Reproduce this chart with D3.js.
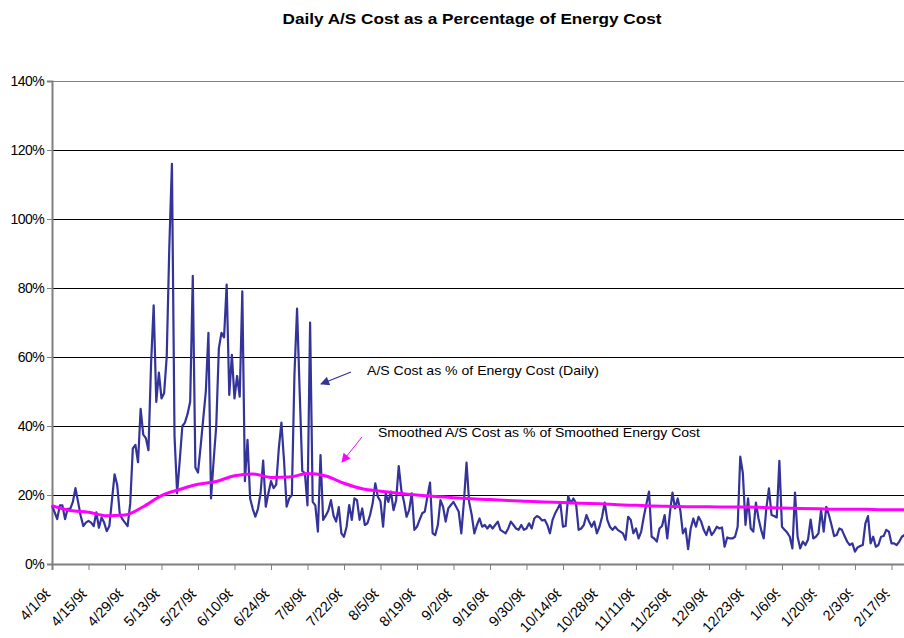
<!DOCTYPE html>
<html>
<head>
<meta charset="utf-8">
<script src="https://cdn.jsdelivr.net/npm/d3@7"></script>
<style>
  body { margin: 0; background: #fff; }
  text { font-family: Arial, 'Liberation Sans', sans-serif; }
</style>
</head>
<body>
<div id="chart"></div>
<script>
// daily A/S cost as % of energy cost, one array per month (4/1/98 .. 2/22/99)
const apr98 = [17, 15, 13, 17, 17, 13, 16, 16, 18, 22, 18, 14, 11, 12, 12.5, 12, 11, 15, 10.5, 13.5, 12, 9.5, 11, 18.5, 26, 23, 14.5, 13, 12, 11];
const may98 = [17.5, 33.5, 34.5, 29.5, 45, 37.5, 36.5, 33, 58, 75, 47, 55.5, 48, 49.5, 60, 92, 116, 37, 20.5, 30, 40, 41, 43.5, 47, 83.5, 28, 26.5, 34, 42, 50, 67];
const jun98 = [19, 30, 40, 62.5, 67, 65.7, 81, 49, 60.6, 48, 54.5, 48.5, 79, 24, 36, 19, 16, 13.7, 16, 20.5, 30, 16.6, 20.5, 24, 22, 23, 33.5, 41, 30, 16.6];
const jul98 = [19, 20, 55, 74, 50, 27, 26.3, 17, 70, 18, 17, 9.4, 31.6, 12.8, 14, 15.5, 18.5, 14, 12.3, 16.5, 8.9, 7.9, 10.8, 17.1, 12.8, 19, 18.5, 12.8, 16.1, 11.3, 11.8];
const aug98 = [14.2, 17.6, 23.4, 19.5, 18.1, 10.8, 20.5, 18, 21, 15.6, 18.5, 28.4, 21.4, 18.1, 13.7, 15.6, 20.5, 9.9, 10.8, 12.8, 14.7, 15.2, 19.5, 23.6, 8.9, 8.4, 11.3, 18.5, 16.6, 12.3, 16.1];
const sep98 = [17.1, 18, 16.6, 15.2, 8.9, 18, 29.4, 18, 14.2, 8.9, 11.3, 13.2, 10.8, 11.3, 10.3, 11.3, 10.3, 11.3, 12.3, 9.9, 9.4, 8.9, 10.3, 12.3, 11.3, 10.3, 9.9, 11.3, 9.9, 10.3];
const oct98 = [11.8, 10.3, 13.2, 13.9, 13.5, 12.6, 12.8, 11.3, 8.9, 12.8, 14.7, 16.1, 17.6, 10.8, 11, 19.7, 17.6, 19, 17.6, 9.9, 10.3, 11.3, 14.2, 12.3, 10.8, 12.3, 8.9, 10.8, 13.7, 17.8, 12.8];
const nov98 = [10.8, 9.9, 10.8, 9.9, 9.4, 8.9, 7, 13.7, 12.8, 8.9, 10.3, 7.4, 9.4, 13.7, 17.4, 21, 7.9, 7.4, 6.5, 10.3, 11, 14.2, 7.4, 14.7, 20.7, 16.1, 19, 15.6, 8.9, 10.3];
const dec98 = [4.3, 10.3, 13.2, 10.8, 13.7, 12.3, 9.9, 8.4, 10.8, 8.4, 9.4, 10.8, 10.3, 10.6, 5, 7.7, 7.4, 7.4, 7.9, 10.8, 31.1, 26.3, 11.3, 19, 10.3, 9.4, 17.8, 13.2, 9.9, 7.4, 16.1];
const jan99 = [21.9, 14.2, 13.9, 13.5, 29.9, 10.8, 9.9, 9.1, 7.9, 4.5, 20.7, 7.9, 4.5, 6.5, 5.5, 7.1, 12.9, 7.4, 7.9, 8.9, 15.6, 9.4, 16.6, 14.2, 11.3, 8.1, 8.4, 10.3, 9.9, 8.1, 6.5];
const feb99 = [5.5, 6, 3.6, 4.8, 5.2, 5.5, 11.8, 13.9, 6, 7.9, 5, 5.5, 7.9, 8.1, 9.9, 9.4, 6, 6, 5.5, 6.5, 7.9, 8.4];

// smoothed series, read weekly (days after 4/1/98)
const smoothedDay = [0, 7, 14, 21, 28, 35, 42, 49, 56, 63, 70, 77, 84, 91, 98, 105, 112, 119, 126, 133, 140, 147, 154, 161, 168, 175, 182, 189, 196, 203, 210, 217, 224, 231, 238, 245, 252, 259, 266, 273, 280, 287, 294, 301, 308, 315, 322, 327];
const smoothedValue = [16.9, 15.5, 15.0, 14.0, 14.2, 16.6, 19.8, 21.6, 23.1, 23.9, 25.6, 26.1, 25.1, 25.2, 26.2, 25.5, 23.4, 21.8, 21.1, 20.5, 20.0, 19.6, 19.2, 18.9, 18.7, 18.4, 18.2, 18.0, 17.8, 17.6, 17.5, 17.2, 17.0, 16.8, 16.7, 16.6, 16.6, 16.5, 16.5, 16.4, 16.2, 16.1, 16.0, 15.9, 15.9, 15.8, 15.7, 15.7];

const yTicks = [0, 20, 40, 60, 80, 100, 120, 140];
const tickEvery = 14;

const startDate = new Date(Date.UTC(1998, 3, 1));
const daily = [].concat(apr98, may98, jun98, jul98, aug98, sep98, oct98, nov98, dec98, jan99, feb99);
const dailyData = daily.map((v, i) => ({ date: d3.utcDay.offset(startDate, i), value: v }));
const smoothedData = smoothedDay.map((d, i) => ({ date: d3.utcDay.offset(startDate, d), value: smoothedValue[i] }));
const tickDates = d3.range(0, daily.length, tickEvery).map((d) => d3.utcDay.offset(startDate, d));

const width = 904;
const height = 638;
const plotLeft = 52;
const plotRight = 904.5;
const plotTop = 81;
const plotBottom = 564;

const svg = d3.select('#chart').append('svg').attr('width', width).attr('height', height);

const x = d3.scaleUtc().domain([startDate, dailyData[dailyData.length - 1].date]).range([plotLeft, plotRight]);
const y = d3.scaleLinear().domain([0, 140]).range([plotBottom, plotTop]);

// title
svg
  .append('text')
  .attr('x', 472)
  .attr('y', 24)
  .attr('text-anchor', 'middle')
  .attr('font-size', 15)
  .attr('font-weight', 'bold')
  .attr('textLength', 379)
  .attr('lengthAdjust', 'spacingAndGlyphs')
  .text('Daily A/S Cost as a Percentage of Energy Cost');

// gridlines
svg
  .append('g')
  .selectAll('line')
  .data(yTicks.filter((d) => d > 0))
  .join('line')
  .attr('x1', plotLeft)
  .attr('x2', width)
  .attr('y1', (d) => Math.round(y(d)) + 0.5)
  .attr('y2', (d) => Math.round(y(d)) + 0.5)
  .attr('stroke', (d) => (d === 140 ? '#808080' : '#000'))
  .attr('stroke-width', 1);

// y axis
const yAxis = svg
  .append('g')
  .attr('transform', `translate(${plotLeft},0)`)
  .call(d3.axisLeft(y).tickValues(yTicks).tickSize(5).tickPadding(3).tickFormat((d) => d + '%'));
yAxis.select('.domain').attr('stroke', '#808080').attr('stroke-width', 2);
yAxis.selectAll('.tick line').attr('stroke', '#808080');
yAxis.selectAll('text').attr('font-size', 14).attr('fill', '#000').attr('letter-spacing', -0.6);

// the last character of each date label is cut off, as in the original
svg
  .append('clipPath')
  .attr('id', 'label-clip')
  .append('rect')
  .attr('x', -200)
  .attr('y', -20)
  .attr('width', 196)
  .attr('height', 30);

// x axis
const xAxis = svg
  .append('g')
  .attr('transform', `translate(0,${plotBottom})`)
  .call(d3.axisBottom(x).tickValues(tickDates).tickSize(6).tickFormat(d3.utcFormat('%-m/%-d/%y')));
xAxis.select('.domain').attr('stroke', '#808080').attr('stroke-width', 2);
xAxis.selectAll('.tick line').attr('stroke', '#808080');
xAxis
  .selectAll('.tick text')
  .attr('font-size', 14.5)
  .attr('fill', '#000')
  .attr('text-anchor', 'end')
  .attr('dy', 0)
  .attr('y', 0)
  .attr('transform', 'translate(1,28) rotate(-47)')
  .attr('clip-path', 'url(#label-clip)');

// lines
svg
  .append('path')
  .datum(dailyData)
  .attr('fill', 'none')
  .attr('stroke', '#333399')
  .attr('stroke-width', 2.2)
  .attr('stroke-linejoin', 'round')
  .attr('d', d3.line().x((d) => x(d.date)).y((d) => y(d.value)));

svg
  .append('path')
  .datum(smoothedData)
  .attr('fill', 'none')
  .attr('stroke', '#ff00ff')
  .attr('stroke-width', 3)
  .attr('d', d3.line().curve(d3.curveMonotoneX).x((d) => x(d.date)).y((d) => y(d.value)));

// annotations
const defs = svg.append('defs');
[['navy-head', '#333399'], ['pink-head', '#ff00ff']].forEach(([id, color]) => {
  defs
    .append('marker')
    .attr('id', id)
    .attr('viewBox', '0 0 10 10')
    .attr('refX', 9)
    .attr('refY', 5)
    .attr('markerWidth', 11)
    .attr('markerHeight', 9)
    .attr('markerUnits', 'userSpaceOnUse')
    .attr('orient', 'auto')
    .append('path')
    .attr('d', 'M0,0 L10,5 L0,10 Z')
    .attr('fill', color);
});

svg
  .append('line')
  .attr('x1', 351)
  .attr('y1', 372)
  .attr('x2', 321)
  .attr('y2', 384)
  .attr('stroke', '#333399')
  .attr('stroke-width', 1.2)
  .attr('marker-end', 'url(#navy-head)');

svg
  .append('line')
  .attr('x1', 362)
  .attr('y1', 437)
  .attr('x2', 342)
  .attr('y2', 462)
  .attr('stroke', '#ff00ff')
  .attr('stroke-width', 1)
  .attr('marker-end', 'url(#pink-head)');

svg
  .append('text')
  .attr('x', 367)
  .attr('y', 375)
  .attr('font-size', 13.5)
  .attr('textLength', 232)
  .attr('lengthAdjust', 'spacingAndGlyphs')
  .text('A/S Cost as % of Energy Cost (Daily)');

svg
  .append('text')
  .attr('x', 378)
  .attr('y', 437)
  .attr('font-size', 13.5)
  .attr('textLength', 322)
  .attr('lengthAdjust', 'spacingAndGlyphs')
  .text('Smoothed A/S Cost as % of Smoothed Energy Cost');
</script>
</body>
</html>
